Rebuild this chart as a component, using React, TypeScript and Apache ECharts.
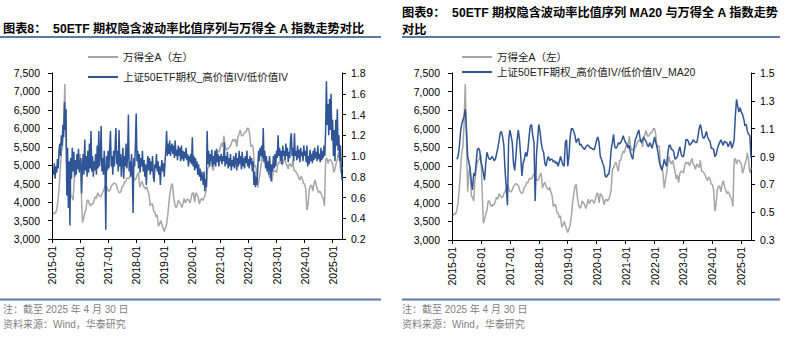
import React, { useEffect, useRef } from "react";
import * as echarts from "echarts";

// ---------- data ----------
const YEARS = [2015, 2016, 2017, 2018, 2019, 2020, 2021, 2022, 2023, 2024, 2025];
const X_TICKS = [2015, 2016, 2017, 2018, 2019, 2020, 2021, 2022, 2023, 2024, 2025];
const RIGHT_TICKS_8 = [0.2, 0.4, 0.6, 0.8, 1.0, 1.2, 1.4, 1.6, 1.8];
const RIGHT_TICKS_9 = [0.3, 0.5, 0.7, 0.9, 1.1, 1.3, 1.5];

// 万得全A, twice a month (mid-month, month end)
const gray2015 = [3650, 3720, 3700, 3800, 4000, 4350, 4850, 5350, 5500, 6100, 7200, 5700, 4300, 4800, 5000, 4200, 4150, 4050, 4600, 4900, 5100, 5150, 5200, 5300];
const gray2016 = [4350, 3450, 3550, 3700, 3800, 4050, 4050, 3950, 3900, 3950, 3950, 4050, 4150, 4100, 4250, 4200, 4150, 4150, 4250, 4300, 4400, 4500, 4400, 4300];
const gray2017 = [4300, 4350, 4450, 4480, 4520, 4500, 4480, 4350, 4280, 4250, 4300, 4420, 4450, 4550, 4550, 4650, 4650, 4650, 4720, 4780, 4780, 4620, 4600, 4650];
const gray2018 = [4750, 4800, 4400, 4500, 4560, 4450, 4400, 4350, 4420, 4300, 4200, 3900, 3950, 3950, 3750, 3720, 3600, 3650, 3350, 3400, 3500, 3400, 3300, 3200];
const gray2019 = [3300, 3400, 3650, 4000, 4250, 4450, 4500, 4150, 3950, 3850, 3900, 4050, 4000, 3950, 3850, 3950, 4100, 3980, 4050, 4080, 4050, 3980, 4100, 4250];
const gray2020 = [4250, 4000, 4250, 4200, 4150, 3950, 4050, 4100, 4050, 4100, 4200, 4350, 4900, 4950, 5050, 5100, 4950, 4850, 5150, 5150, 5300, 5400, 5350, 5500];
const gray2021 = [5600, 5500, 5800, 5550, 5400, 5450, 5450, 5500, 5550, 5650, 5700, 5650, 5700, 5500, 5750, 5850, 5950, 5800, 5800, 5850, 5900, 5900, 6000, 6000];
const gray2022 = [5850, 5500, 5550, 5500, 4950, 5000, 4800, 4400, 4600, 4800, 5050, 5250, 5100, 5050, 5150, 5000, 4850, 4650, 4750, 4550, 4800, 4850, 4850, 4800];
const gray2023 = [5000, 5100, 5050, 5100, 5000, 5100, 5200, 5050, 5000, 4900, 5050, 5000, 4950, 5150, 4850, 4850, 4800, 4750, 4650, 4600, 4700, 4650, 4500, 4500];
const gray2024 = [4350, 3780, 3950, 4350, 4450, 4450, 4300, 4500, 4600, 4450, 4350, 4250, 4300, 4250, 4150, 4100, 3900, 5150, 5200, 5050, 5150, 5150, 5100, 5050];
const gray2025 = [4800, 4900, 5050, 5150, 5350, 5150, 4800, 4950];

// 上证50ETF期权_高价值IV/低价值IV, three times a month
const ivr2015 = [null, 0.82, 0.93, 0.78, 0.9, 0.84, 0.97, 0.88, 1.05, 1.12, 1.0, 1.2, 1.1, 1.3, 1.18, 1.52, 1.25, 1.45, 0.62, 1.08, 0.5, 0.95, 0.33, 0.98, 0.78, 1.08, 0.85, 1.04, 0.8, 0.96, 0.82, 1.02, 0.87, 1.07, 0.84, 0.95];
const ivr2016 = [0.98, 0.64, 0.9, 1.02, 0.82, 1.16, 0.86, 1.0, 0.8, 1.05, 0.84, 1.12, 0.88, 1.24, 0.85, 1.0, 0.8, 0.95, 0.86, 1.02, 0.82, 1.1, 0.88, 1.24, 0.9, 1.0, 1.29, 0.85, 0.98, 0.82, 1.05, 0.88, 0.29, 1.0, 0.86, 1.05];
const ivr2017 = [0.88, 1.08, 1.24, 0.9, 1.0, 0.82, 1.05, 0.9, 1.1, 1.27, 0.92, 1.05, 0.85, 1.25, 0.9, 1.02, 0.8, 0.96, 1.08, 0.78, 1.0, 0.9, 1.12, 0.88, 1.0, 1.4, 0.85, 0.95, 0.8, 1.02, 0.88, 0.45, 0.98, 0.9, 1.1, 1.41];
const ivr2018 = [0.95, 1.05, 0.88, 1.02, 0.84, 0.98, 0.9, 1.05, 0.85, 0.96, 0.8, 0.92, 0.72, 0.9, 1.0, 0.86, 0.98, 0.82, 0.95, 0.85, 1.0, 0.8, 0.75, 0.92, 0.88, 1.02, 0.85, 0.95, 0.82, 0.9, 0.72, 0.88, 0.96, 0.85, 0.93, 0.8];
const ivr2019 = [0.95, 1.05, 1.24, 1.0, 1.12, 1.02, 1.15, 1.0, 1.08, 1.12, 1.02, 1.1, 0.98, 1.15, 1.0, 1.06, 0.96, 1.1, 1.0, 1.08, 0.95, 1.1, 0.97, 1.05, 0.95, 1.04, 0.98, 1.08, 0.96, 1.02, 0.9, 1.0, 0.94, 1.02, 0.92, 1.18];
const ivr2020 = [0.9, 1.0, 0.86, 0.98, 0.88, 0.95, 0.82, 0.92, 0.8, 0.88, 0.76, 0.85, 0.8, 0.72, 0.85, 0.66, 0.78, 0.7, 1.24, 0.92, 1.05, 0.9, 1.02, 0.95, 1.06, 0.9, 1.0, 0.92, 1.05, 0.9, 1.07, 0.94, 1.02, 0.9, 1.0, 0.95];
const ivr2021 = [1.02, 0.92, 1.0, 0.95, 1.13, 0.9, 1.0, 0.92, 1.04, 0.88, 0.98, 0.9, 1.02, 0.86, 0.96, 0.9, 1.0, 0.88, 0.95, 1.03, 0.86, 0.98, 0.9, 1.05, 0.92, 1.0, 0.87, 1.04, 0.9, 0.98, 0.88, 1.0, 0.93, 1.05, 0.9, 0.97];
const ivr2022 = [0.88, 1.0, 0.92, 0.98, 0.85, 0.95, 0.72, 0.85, 0.7, 0.8, 0.72, 0.9, 1.05, 0.95, 1.08, 1.0, 1.1, 0.98, 1.27, 0.95, 1.05, 0.88, 1.0, 0.85, 0.95, 0.82, 1.0, 0.9, 0.76, 0.92, 0.85, 1.0, 0.88, 1.02, 0.9, 1.05];
const ivr2023 = [0.98, 1.2, 1.0, 1.08, 0.95, 1.05, 0.92, 1.1, 1.0, 1.05, 0.96, 1.12, 1.0, 1.08, 0.94, 1.04, 0.98, 1.16, 1.22, 1.0, 1.08, 0.95, 1.22, 1.0, 1.05, 0.96, 1.1, 0.98, 1.06, 0.94, 1.08, 1.0, 1.04, 0.95, 1.1, 1.0];
const ivr2024 = [1.05, 0.94, 1.1, 0.9, 1.0, 0.92, 1.06, 0.95, 1.02, 0.93, 1.05, 0.96, 1.08, 0.98, 1.04, 0.95, 1.1, 0.97, 1.02, 0.94, 1.08, 0.96, 1.05, 0.98, 1.1, 1.0, 1.25, 1.72, 1.3, 1.5, 1.2, 1.55, 1.25, 1.6, 1.15, 1.35];
const ivr2025 = [1.0, 1.25, 0.95, 1.35, 1.1, 1.45, 1.05, 1.2, 0.95, 1.1, 0.9, 0.77];

// MA20 of the ratio, twice a month
const ma2015 = [null, null, null, 0.88, 0.9, 0.96, 1.07, 1.13, 1.16, 1.19, 1.24, 1.1, 0.9, 0.86, 0.81, 0.72, 0.66, 0.78, 0.76, 0.85, 0.95, 0.96, 0.94, 0.86];
const ma2016 = [0.83, 0.78, 0.73, 0.85, 0.93, 0.9, 0.88, 0.88, 0.9, 0.89, 0.87, 0.88, 0.92, 0.96, 1.01, 1.07, 1.08, 1.04, 0.98, 0.8, 0.68, 0.55, 1.02, 1.09];
const ma2017 = [1.05, 1.0, 0.85, 0.8, 0.9, 1.02, 1.09, 1.02, 0.9, 0.76, 0.85, 0.88, 0.93, 0.9, 0.95, 1.05, 1.12, 1.13, 1.05, 1.0, 0.58, 0.9, 1.02, 1.13];
const ma2018 = [1.08, 1.0, 0.95, 0.93, 0.85, 0.83, 0.88, 0.9, 0.87, 0.88, 0.88, 0.86, 0.87, 0.85, 0.86, 0.83, 0.86, 0.9, 0.87, 0.84, 0.83, 1.0, 1.02, 0.83];
const ma2019 = [0.9, 1.04, 1.1, 1.1, 1.08, 1.05, 1.0, 1.02, 1.03, 0.98, 0.99, 0.97, 0.96, 0.95, 0.97, 0.98, 0.98, 0.97, 0.96, 0.96, 0.95, 0.95, 0.98, 1.02];
const ma2020 = [1.04, 1.0, 0.9, 0.88, 0.85, 0.83, 0.76, 0.75, 0.77, 0.77, 0.83, 0.95, 1.0, 1.06, 0.97, 0.96, 0.97, 1.0, 0.99, 1.0, 1.02, 1.05, 1.02, 1.0];
const ma2021 = [0.99, 0.96, 0.98, 0.93, 0.9, 0.88, 0.96, 1.02, 1.04, 1.07, 1.09, 1.03, 1.0, 1.02, 1.04, 1.02, 1.01, 0.98, 0.97, 1.0, 0.98, 0.96, 1.0, 1.04];
const ma2022 = [1.0, 0.97, 0.92, 0.86, 0.83, 0.8, 0.83, 0.88, 0.85, 0.83, 0.92, 0.98, 0.98, 0.95, 0.95, 0.93, 0.88, 0.89, 0.9, 0.94, 0.97, 0.92, 0.9, 0.9];
const ma2023 = [0.95, 1.02, 1.02, 1.01, 0.98, 0.99, 1.0, 1.02, 1.01, 1.0, 1.0, 1.04, 1.1, 1.13, 1.09, 1.04, 1.03, 1.05, 1.08, 1.04, 1.02, 1.01, 0.96, 0.96];
const ma2024 = [0.95, 0.9, 0.91, 0.95, 0.98, 1.0, 1.02, 1.0, 0.98, 1.01, 1.0, 1.0, 0.97, 0.99, 1.01, 0.96, 0.98, 1.02, 1.19, 1.31, 1.26, 1.22, 1.25, 1.22];
const ma2025 = [1.2, 1.17, 1.12, 1.13, 1.08, 1.06, 1.05, 0.89];

const GRAY_NAME = "万得全A（左）";
const IVR_NAME = "上证50ETF期权_高价值IV/低价值IV";
const MA_NAME = "上证50ETF期权_高价值IV/低价值IV_MA20";

// ---------- helpers ----------
type Row = (number | null)[];
function toSeries(arrays: Row[], perYear: number): [number, number][] {
  const out: [number, number][] = [];
  arrays.forEach((arr, i) => {
    arr.forEach((v, k) => {
      if (v !== null) out.push([YEARS[i] + (k + 1) / perYear, v]);
    });
  });
  return out;
}

const FONT = '"Liberation Sans", Arial, "Noto Sans CJK SC", sans-serif';
const GRAY = "#A6A6A6";
const BLUE = "#2F5597";
const RULE = "#5B7BA6";
const X_MAX = 2015 + 124 / 12;

function xAxis(gridIndex: number) {
  return {
    type: "value",
    gridIndex,
    min: 2015,
    max: X_MAX,
    axisLine: { show: true, lineStyle: { color: "#000", width: 1 } },
    axisTick: { show: true, customValues: X_TICKS, length: 4, lineStyle: { color: "#000" } },
    axisLabel: {
      customValues: X_TICKS,
      rotate: 90,
      margin: 7,
      fontSize: 10.5,
      color: "#000",
      fontFamily: FONT,
      formatter: (v: number) => `${Math.round(v)}-01`,
    },
    splitLine: { show: false },
  };
}

function leftY(gridIndex: number) {
  return {
    type: "value",
    gridIndex,
    position: "left",
    min: 3000,
    max: 7500,
    interval: 500,
    axisLine: { show: true, lineStyle: { color: "#000", width: 1 } },
    axisTick: { show: true, length: 4, lineStyle: { color: "#000" } },
    axisLabel: {
      margin: 12,
      fontSize: 10.5,
      color: "#000",
      fontFamily: FONT,
      formatter: (v: number) => v.toLocaleString("en-US"),
    },
    splitLine: { show: false },
  };
}

function rightY(gridIndex: number, min: number, max: number, ticks: number[]) {
  return {
    type: "value",
    gridIndex,
    position: "right",
    min,
    max,
    axisLine: { show: true, lineStyle: { color: "#000", width: 1 } },
    axisTick: { show: true, customValues: ticks, length: 4, lineStyle: { color: "#000" } },
    axisLabel: {
      customValues: ticks,
      margin: 9,
      fontSize: 10.5,
      color: "#000",
      fontFamily: FONT,
      formatter: (v: number) => v.toFixed(1),
    },
    splitLine: { show: false },
  };
}

function legend(name: string, left: number, top: number) {
  return {
    data: [name],
    left,
    top,
    padding: 0,
    icon: "rect",
    itemWidth: 30,
    itemHeight: 2,
    selectedMode: false,
    textStyle: { fontSize: 10.5, color: "#222", fontFamily: FONT, lineHeight: 14 },
  };
}

function line(name: string, xi: number, yi: number, data: [number, number][], color: string) {
  return {
    name,
    type: "line",
    xAxisIndex: xi,
    yAxisIndex: yi,
    data,
    symbol: "none",
    showSymbol: false,
    lineStyle: { color, width: 1.5 },
    itemStyle: { color },
    emphasis: { disabled: true },
  };
}

export default function App() {
  const ref = useRef<HTMLDivElement>(null);

  useEffect(() => {
    if (!ref.current) return;
    const chart = echarts.init(ref.current, null, { renderer: "svg" });

    const grayData = toSeries([gray2015, gray2016, gray2017, gray2018, gray2019, gray2020, gray2021, gray2022, gray2023, gray2024, gray2025], 24);
    const ivrData = toSeries([ivr2015, ivr2016, ivr2017, ivr2018, ivr2019, ivr2020, ivr2021, ivr2022, ivr2023, ivr2024, ivr2025], 36);
    const maData = toSeries([ma2015, ma2016, ma2017, ma2018, ma2019, ma2020, ma2021, ma2022, ma2023, ma2024, ma2025], 24);

    const titleStyle = { fontSize: 12.2, fontWeight: "bold", color: "#000", fontFamily: FONT, lineHeight: 17 };

    chart.setOption({
      animation: false,
      textStyle: { fontFamily: FONT },
      title: [
        { text: "图表8：  50ETF 期权隐含波动率比值序列与万得全 A 指数走势对比", left: 3, top: 20, padding: 0, textStyle: titleStyle },
        { text: "图表9：  50ETF 期权隐含波动率比值序列 MA20 与万得全 A 指数走势\n对比", left: 402, top: 4, padding: 0, textStyle: titleStyle },
      ],
      legend: [
        legend(GRAY_NAME, 88, 50),
        legend(IVR_NAME, 88, 70),
        legend(GRAY_NAME, 462, 50),
        legend(MA_NAME, 462, 65),
      ],
      grid: [
        { left: 52, top: 73, width: 290, height: 166, outerBoundsMode: "none" },
        { left: 452, top: 73, width: 299, height: 167, outerBoundsMode: "none" },
      ],
      xAxis: [xAxis(0), xAxis(1)],
      yAxis: [leftY(0), rightY(0, 0.2, 1.8, RIGHT_TICKS_8), leftY(1), rightY(1, 0.3, 1.5, RIGHT_TICKS_9)],
      series: [
        line(GRAY_NAME, 0, 0, grayData, GRAY),
        line(IVR_NAME, 0, 1, ivrData, BLUE),
        line(GRAY_NAME, 1, 2, grayData, GRAY),
        line(MA_NAME, 1, 3, maData, BLUE),
      ],
      graphic: [
        { type: "line", shape: { x1: 0, y1: 37, x2: 381, y2: 37 }, style: { stroke: RULE, lineWidth: 2 } },
        { type: "line", shape: { x1: 402, y1: 37, x2: 780, y2: 37 }, style: { stroke: RULE, lineWidth: 2 } },
        { type: "line", shape: { x1: 0, y1: 299.5, x2: 381, y2: 299.5 }, style: { stroke: RULE, lineWidth: 2 } },
        { type: "line", shape: { x1: 402, y1: 299.5, x2: 780, y2: 299.5 }, style: { stroke: RULE, lineWidth: 2 } },
        { type: "text", x: 3, y: 309, style: { text: "注：截至 2025 年 4 月 30 日", fontSize: 10, fill: "#7F7F7F", fontFamily: FONT, verticalAlign: "middle" } },
        { type: "text", x: 3, y: 324, style: { text: "资料来源：Wind，华泰研究", fontSize: 10, fill: "#7F7F7F", fontFamily: FONT, verticalAlign: "middle" } },
        { type: "text", x: 402, y: 309, style: { text: "注：截至 2025 年 4 月 30 日", fontSize: 10, fill: "#7F7F7F", fontFamily: FONT, verticalAlign: "middle" } },
        { type: "text", x: 402, y: 324, style: { text: "资料来源：Wind，华泰研究", fontSize: 10, fill: "#7F7F7F", fontFamily: FONT, verticalAlign: "middle" } },
      ],
    });

    return () => chart.dispose();
  }, []);

  return <div ref={ref} style={{ position: "absolute", left: 0, top: 0, width: 791, height: 339 }} />;
}
